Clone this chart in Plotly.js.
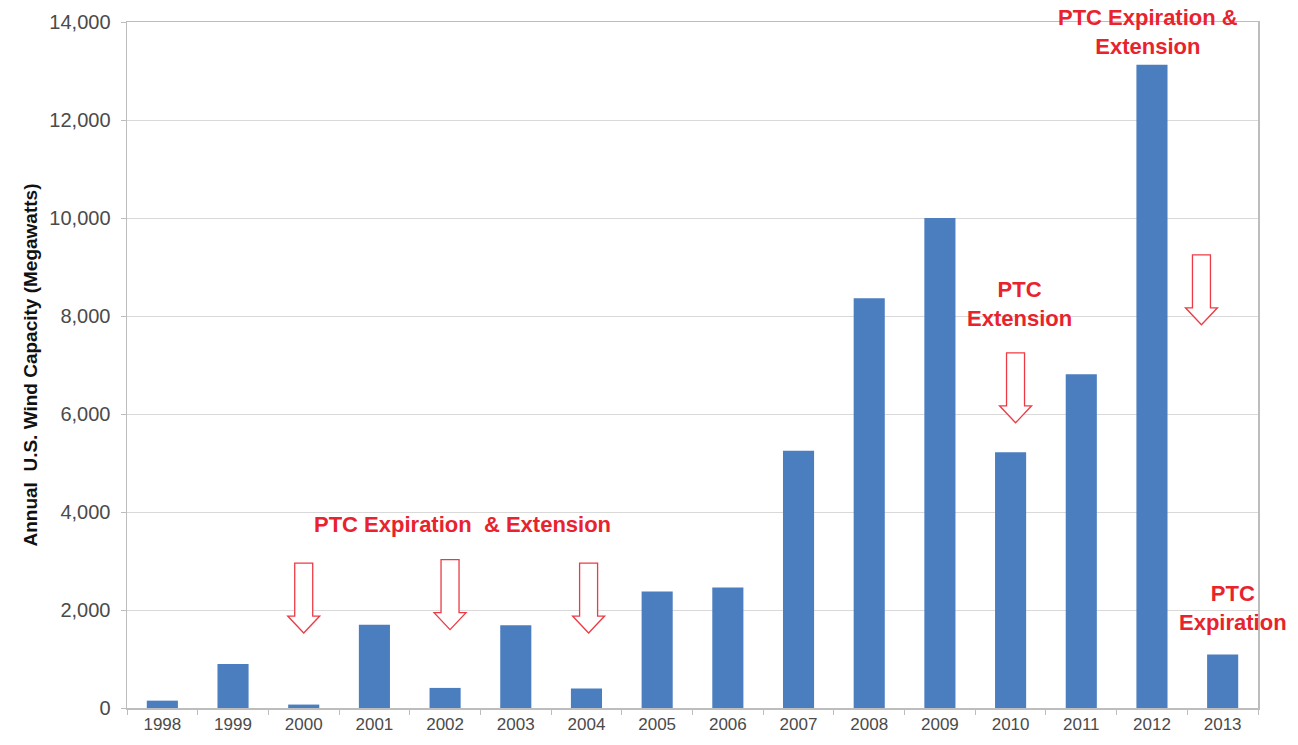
<!DOCTYPE html>
<html>
<head>
<meta charset="utf-8">
<script src="https://cdn.plot.ly/plotly-3.0.1.min.js"></script>
<style>
  html, body { margin: 0; padding: 0; background: #fff; }
  #chart { width: 1298px; height: 745px; }
</style>
</head>
<body>
<div id="chart"></div>
<script>
// Annual U.S. wind capacity additions, megawatts
const years = ['1998','1999','2000','2001','2002','2003','2004','2005',
               '2006','2007','2008','2009','2010','2011','2012','2013'];
const capacityMW = [150, 900, 70, 1700, 410, 1690, 400, 2380,
                    2460, 5250, 8360, 10000, 5220, 6810, 13130, 1090];
const yTicks = [0, 2000, 4000, 6000, 8000, 10000, 12000, 14000];

const RED = '#e8232d';

// Hollow down-arrows: anchored at the tip (category index, value)
const arrowTips = [
  {x: 2, y: 1530},
  {x: 4.07, y: 1600},
  {x: 6.03, y: 1530},
  {x: 12.07, y: 5820},
  {x: 14.7, y: 7820}
];
const arrowPath = 'M0,0 L16,17 L9,17 L9,70 L-9,70 L-9,17 L-16,17 Z';

const shapes = arrowTips.map(a => ({
  type: 'path',
  xref: 'x', yref: 'y',
  xsizemode: 'pixel', ysizemode: 'pixel',
  xanchor: a.x, yanchor: a.y,
  path: arrowPath,
  fillcolor: '#ffffff',
  line: {color: '#ec3b44', width: 1.3},
  layer: 'above'
}));

const noteFont = {family: 'Liberation Sans, Arial, sans-serif', size: 22, color: RED};
const notes = [
  {x: 4.25, y: 3735, text: '<b>PTC Expiration  &amp; Extension</b>'},
  {x: 12.13, y: 8245, text: '<b>PTC<br>Extension</b>'},
  {x: 13.94, y: 13800, text: '<b>PTC Expiration &amp;<br>Extension</b>'},
  {x: 15.14, y: 2040, text: '<b>PTC<br>Expiration</b>'}
].map(n => ({
  x: n.x, y: n.y, xref: 'x', yref: 'y',
  text: n.text, showarrow: false,
  font: noteFont, align: 'center',
  xanchor: 'center', yanchor: 'middle'
}));

const trace = {
  type: 'bar',
  x: years,
  y: capacityMW,
  marker: {color: '#4a7ebf'},
  hoverinfo: 'x+y'
};

const layout = {
  width: 1298,
  height: 745,
  margin: {l: 127, r: 40, t: 22, b: 37},
  paper_bgcolor: '#ffffff',
  plot_bgcolor: '#ffffff',
  bargap: 0.56,
  showlegend: false,
  font: {family: 'Liberation Sans, Arial, sans-serif', color: '#4a4a4a'},
  xaxis: {
    type: 'category',
    range: [-0.5, 15.5],
    showline: true,
    linecolor: '#bdbdbd',
    linewidth: 1.5,
    mirror: true,
    ticks: 'outside',
    tickson: 'boundaries',
    ticklen: 5,
    tickcolor: '#bdbdbd',
    showgrid: false,
    tickfont: {size: 17, color: '#4a4a4a'},
    fixedrange: true
  },
  yaxis: {
    range: [0, 14000],
    tickvals: yTicks,
    tickformat: ',',
    showline: true,
    linecolor: '#bdbdbd',
    linewidth: 1.5,
    mirror: true,
    ticks: 'outside',
    ticklen: 5,
    tickcolor: '#bdbdbd',
    gridcolor: '#d9d9d9',
    gridwidth: 1,
    zeroline: false,
    tickfont: {size: 20, color: '#4a4a4a'},
    ticklabelstandoff: 6,
    title: {
      text: '<b>Annual  U.S. Wind Capacity (Megawatts)</b>',
      font: {size: 19, color: '#111111'},
      standoff: 6
    },
    fixedrange: true
  },
  shapes: shapes,
  annotations: notes
};

Plotly.newPlot('chart', [trace], layout, {displayModeBar: false, staticPlot: true});
</script>
</body>
</html>
